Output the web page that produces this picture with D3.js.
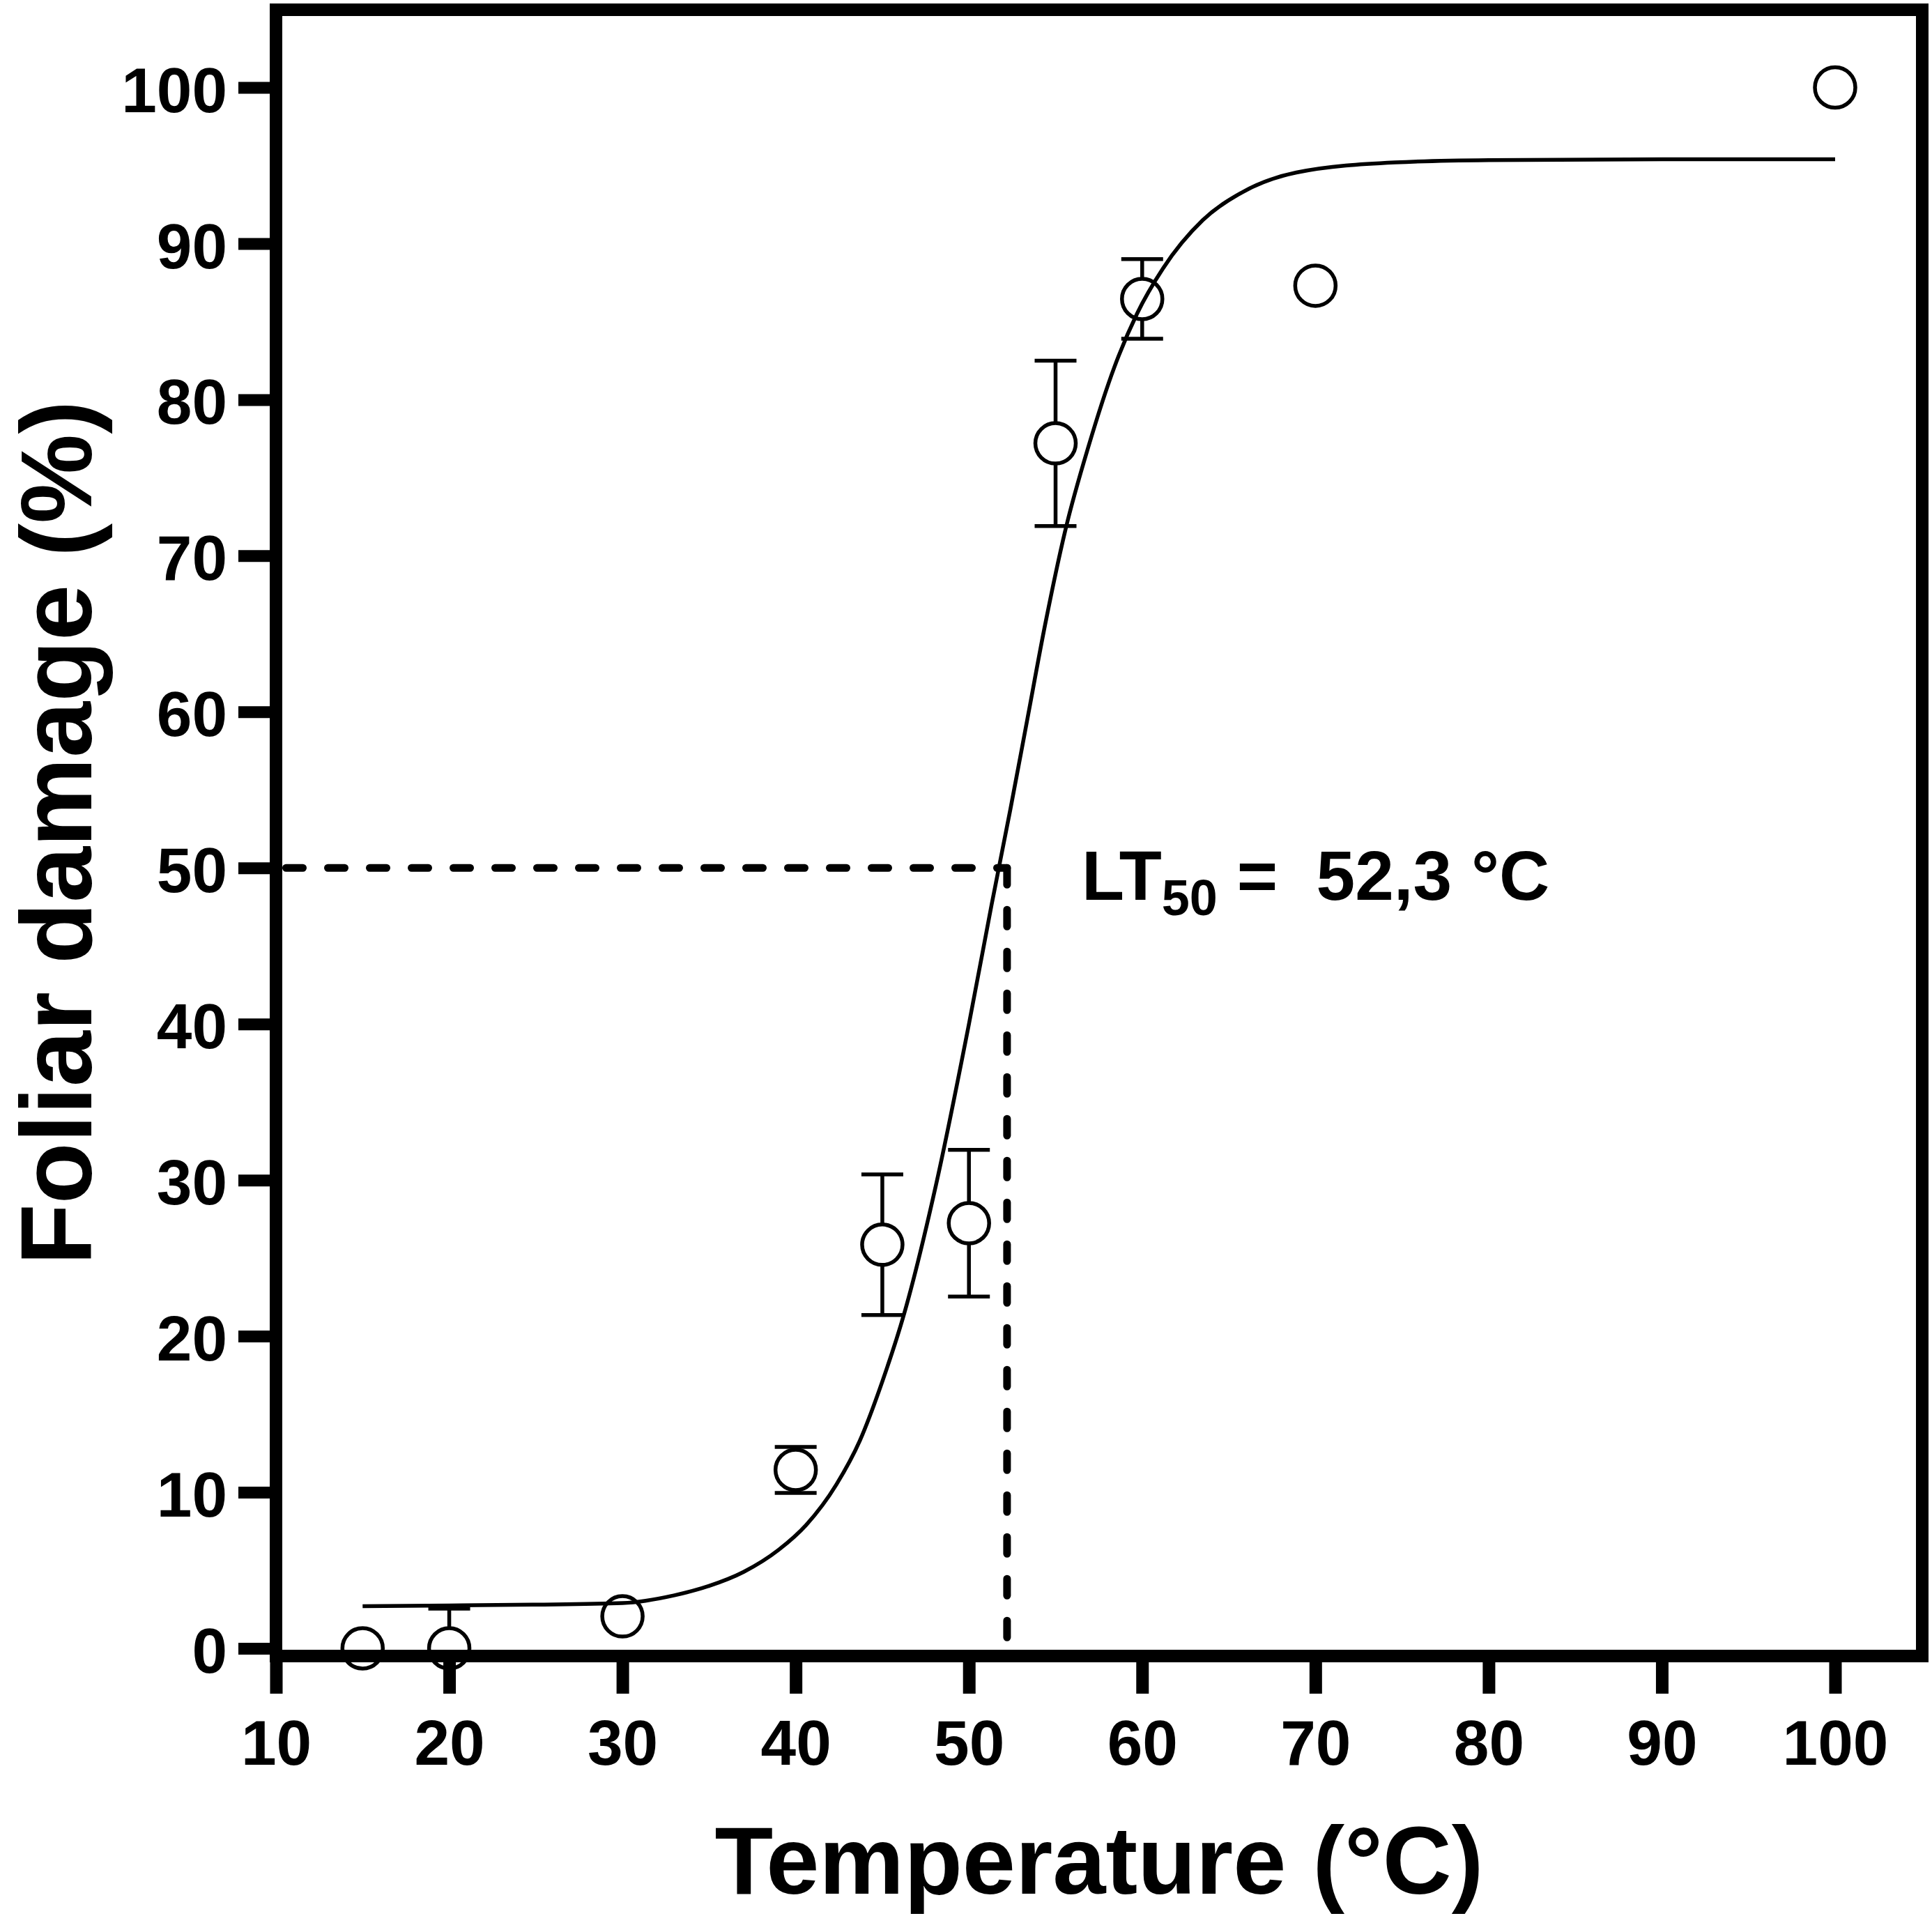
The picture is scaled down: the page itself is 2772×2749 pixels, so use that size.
<!DOCTYPE html>
<html>
<head>
<meta charset="utf-8">
<script src="https://cdn.jsdelivr.net/npm/d3@7"></script>
<style>
  body { margin: 0; background: #fff; }
  svg text { font-family: "Liberation Sans", Arial, Helvetica, sans-serif; font-weight: bold; fill: #000; }
</style>
</head>
<body>
<svg id="chart" width="2772" height="2749"></svg>
<script>
let temperatures = [15, 20, 30, 40, 45, 50, 55, 60, 70, 100];
let damage       = [0, 0, 2.05, 11.43, 25.86, 27.24, 77.2, 86.45, 87.3, 100];
let errors       = [0, 2.55, 0, 1.47, 4.5, 4.7, 5.3, 2.55, 0, 0];

// fitted sigmoid
let fitTemperatures = [15, 20, 25, 30, 33, 35, 37, 39, 40.6, 42.35, 43.7, 45, 46.25, 48.1, 50, 51.3, 52.4,
                       53.35, 54.4, 55.6, 56.9, 58.4, 59.7, 61.2, 63.5, 65.8, 68.9, 74.6, 80, 90, 100];
let fitDamage       = [2.7, 2.75, 2.8, 2.9, 3.4, 4.0, 4.9, 6.3, 7.9, 10.5, 13.3, 17.1, 21.4, 29.7, 40.0, 47.6, 53.8,
                       59.4, 65.6, 71.8, 77.0, 82.1, 85.5, 88.4, 91.5, 93.3, 94.55, 95.2, 95.35, 95.4, 95.4];

let xTicks = [10, 20, 30, 40, 50, 60, 70, 80, 90, 100];
let yTicks = [0, 10, 20, 30, 40, 50, 60, 70, 80, 90, 100];

// LT50 guide lines and label
let lt50Temperature = 52.2;
let lt50Level = 50;
let lt50Text = ["LT", "50", " =  52,3 °C"];

let xTitle = "Temperature (°C)";
let yTitle = "Foliar damage (%)";

// layout (pixels)
let frame = {left: 396, right: 2758, top: 14, bottom: 2376};
let axisWidth = 18;
let tickLength = 54;

let svg = d3.select("#chart");

let x = d3.scaleLinear().domain([10, 100]).range([396, 2633]);
let y = d3.scaleLinear().domain([0, 100]).range([2365, 125.5]);

let points = temperatures.map((t, i) => ({t: t, d: damage[i], e: errors[i]}));

// error bars, clipped to the plot box
svg.append("clipPath").attr("id", "plotClip")
  .append("rect")
  .attr("x", frame.left).attr("y", frame.top)
  .attr("width", frame.right - frame.left).attr("height", frame.bottom - frame.top);

let bars = svg.append("g").attr("clip-path", "url(#plotClip)")
  .attr("stroke", "#000").attr("stroke-width", 5.5);
points.filter(p => p.e > 0).forEach(function (p) {
    let cx = x(p.t), capHalf = 30;
    bars.append("line").attr("x1", cx).attr("x2", cx).attr("y1", y(p.d - p.e)).attr("y2", y(p.d + p.e));
    [p.d - p.e, p.d + p.e].forEach(v => bars.append("line")
        .attr("x1", cx - capHalf).attr("x2", cx + capHalf).attr("y1", y(v)).attr("y2", y(v)));
});

// open circles
svg.append("g").selectAll("circle").data(points).join("circle")
  .attr("cx", p => x(p.t)).attr("cy", p => y(p.d)).attr("r", 29)
  .attr("fill", "#fff").attr("stroke", "#000").attr("stroke-width", 5.5);

// fitted curve
let fitLine = d3.line()
  .x((t, i) => x(t))
  .y((t, i) => y(fitDamage[i]))
  .curve(d3.curveMonotoneX);
svg.append("path").datum(fitTemperatures)
  .attr("d", fitLine).attr("fill", "none").attr("stroke", "#000").attr("stroke-width", 5.5);

// dashed LT50 guides
let dashed = svg.append("g").attr("fill", "none").attr("stroke", "#000")
  .attr("stroke-width", 11).attr("stroke-linecap", "round").attr("stroke-dasharray", "24 36");
dashed.append("line")
  .attr("x1", frame.left + axisWidth / 2 + 5.5).attr("x2", x(lt50Temperature))
  .attr("y1", y(lt50Level)).attr("y2", y(lt50Level));
dashed.append("line")
  .attr("x1", x(lt50Temperature)).attr("x2", x(lt50Temperature))
  .attr("y1", y(lt50Level)).attr("y2", y(0));

// axes
let yAxis = d3.axisLeft(y).tickValues(yTicks).tickSize(tickLength).tickPadding(16);
let gy = svg.append("g").attr("transform", `translate(${frame.left},0)`).call(yAxis);
gy.select(".domain").remove();
gy.selectAll(".tick line").attr("stroke", "#000").attr("stroke-width", 17);
gy.selectAll(".tick text").attr("font-size", 91).attr("dy", "0.38em");

let xAxis = d3.axisBottom(x).tickValues(xTicks).tickSize(tickLength).tickPadding(37);
let gx = svg.append("g").attr("transform", `translate(0,${frame.bottom})`).call(xAxis);
gx.select(".domain").remove();
gx.selectAll(".tick line").attr("stroke", "#000").attr("stroke-width", axisWidth);
gx.selectAll(".tick text").attr("font-size", 91);

// box frame
svg.append("rect")
  .attr("x", frame.left).attr("y", frame.top)
  .attr("width", frame.right - frame.left).attr("height", frame.bottom - frame.top)
  .attr("fill", "none").attr("stroke", "#000").attr("stroke-width", axisWidth);

// titles
svg.append("text").attr("x", (frame.left + frame.right) / 2).attr("y", 2717)
  .attr("text-anchor", "middle").attr("font-size", 137).text(xTitle);
svg.append("text")
  .attr("transform", `translate(131,${(frame.top + frame.bottom) / 2}) rotate(-90)`)
  .attr("text-anchor", "middle").attr("font-size", 144).text(yTitle);

// LT50 label
let label = svg.append("text").attr("x", 1552).attr("y", 1291)
  .attr("font-size", 100).style("white-space", "pre");
label.append("tspan").text(lt50Text[0]);
label.append("tspan").attr("font-size", 72).attr("dy", 22).text(lt50Text[1]);
label.append("tspan").attr("dy", -22).text(lt50Text[2]);
</script>
</body>
</html>
